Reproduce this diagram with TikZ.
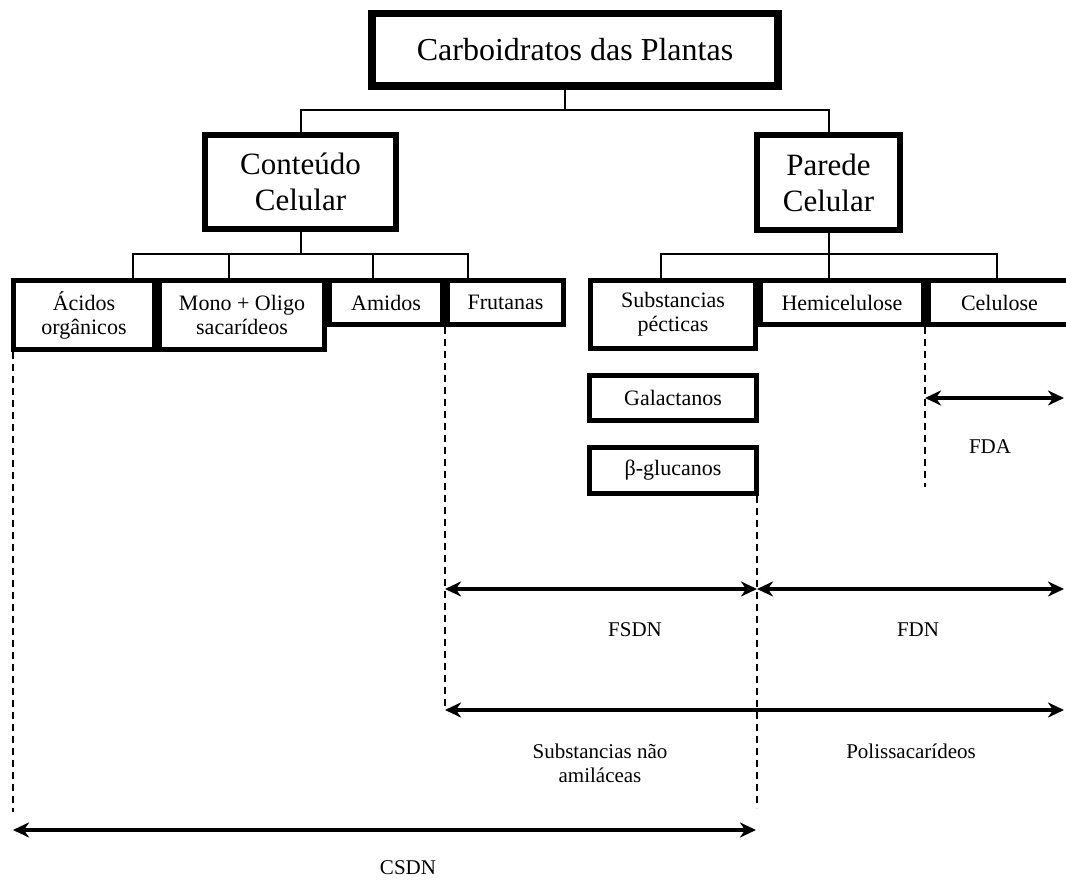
\documentclass[tikz,border=0pt]{standalone}
\usepackage{fontspec}
\setmainfont{Liberation Serif}
\usetikzlibrary{arrows.meta}
\begin{document}
\begin{tikzpicture}[x=1pt,y=-1pt,
  bigbox/.style={draw, line width=6pt, inner sep=0pt, align=center, font=\fontsize{31}{36}\selectfont},
  rowbox/.style={draw, line width=5pt, inner sep=0pt, align=center, font=\fontsize{22}{24}\selectfont},
  conn/.style={line width=2pt},
  dsh/.style={line width=2pt, dash pattern=on 7pt off 5pt},
  dim/.style={line width=4.5pt, {Stealth[length=16pt,width=15pt,inset=5pt]}-{Stealth[length=16pt,width=15pt,inset=5pt]}},
  lbl/.style={align=center, font=\fontsize{21}{24}\selectfont}]
\useasboundingbox (0,0) rectangle (1066,882);
\clip (0,0) rectangle (1066,882);

% main boxes
\node[bigbox, line width=7.5pt, minimum width=406pt, minimum height=72.5pt, font=\fontsize{32}{36}\selectfont] (top) at (575,50) {Carboidratos das Plantas};
\node[bigbox, minimum width=191pt, minimum height=94pt] (cc) at (300.5,182) {Conteúdo\\Celular};
\node[bigbox, minimum width=143pt, minimum height=95pt] (pc) at (828.5,182.5) {Parede\\Celular};

% row boxes
\node[rowbox, minimum width=141pt, minimum height=69pt] (ac) at (84,315) {Ácidos\\orgânicos};
\node[rowbox, minimum width=165pt, minimum height=69pt] (mo) at (242,315) {Mono + Oligo\\sacarídeos};
\node[rowbox, minimum width=113pt, minimum height=44pt] (am) at (386,302.5) {Amidos};
\node[rowbox, minimum width=116pt, minimum height=44pt] (fr) at (505.5,302.5) {Frutanas};
\node[rowbox, minimum width=165pt, minimum height=68pt] (sp) at (673,314.5) {Substancias\\pécticas};
\node[rowbox, minimum width=163pt, minimum height=44pt] (hc) at (842,302.5) {Hemicelulose};
\node[rowbox, minimum width=142pt, minimum height=44pt] (ce) at (999.5,302.5) {Celulose};
\node[rowbox, minimum width=167pt, minimum height=45pt] (ga) at (673,398) {Galactanos};
\node[rowbox, minimum width=167pt, minimum height=46pt] (bg) at (673,470.5) {β-glucanos};

% tree connectors
\coordinate (j0) at (565,110);
\draw[conn] (j0 |- top.south) -- (j0);
\draw[conn] (cc.north) -- (cc.north |- j0) -- (pc.north |- j0) -- (pc.north);

\coordinate (b1) at (133,254);
\coordinate (b2) at (229,254);
\coordinate (b3) at (373,254);
\coordinate (b4) at (468,254);
\draw[conn] (cc.south) -- (cc.south |- b1);
\draw[conn] (b1 |- ac.north) -- (b1) -- (b4) -- (b4 |- fr.north);
\draw[conn] (b2) -- (b2 |- mo.north);
\draw[conn] (b3) -- (b3 |- am.north);

\coordinate (r1) at (661,254);
\coordinate (r2) at (829,254);
\coordinate (r3) at (997,254);
\draw[conn] (pc.south) -- (pc.south |- r2);
\draw[conn] (r1 |- sp.north) -- (r1) -- (r3) -- (r3 |- ce.north);
\draw[conn] (r2) -- (r2 |- hc.north);

% dimension coordinates
\coordinate (fdaL) at (925,398);
\coordinate (fdaR) at (1064,398);
\coordinate (fsL) at (445,589);
\coordinate (fsM) at (757,589);
\coordinate (fsR) at (1064,589);
\coordinate (pL) at (445,710);
\coordinate (pR) at (1064,710);
\coordinate (csL) at (13,830);
\coordinate (csR) at (756,830);
\coordinate (dA) at (13,812);
\coordinate (dM) at (757,808);
\coordinate (dF) at (925,487);

% dashed guides
\draw[dsh] (dA |- ac.south) -- (dA);
\draw[dsh] (pL |- fr.south) -- (pL);
\draw[dsh] (dM |- bg.south) -- (dM);
\draw[dsh] (dF |- ce.south) -- (dF);

% dimension arrows
\draw[dim] (fdaL) -- (fdaR);
\draw[dim] (fsL) -- (fsM);
\draw[dim] (fsM) -- (fsR);
\draw[dim] (pL) -- (pR);
\draw[dim] (csL) -- (csR);

% labels
\node[lbl] (lfda) at (990,447) {FDA};
\node[lbl] (lfsdn) at (635,630) {FSDN};
\node[lbl] (lfdn) at (918,630) {FDN};
\node[lbl] (lsna) at (600,763) {Substancias não\\amiláceas};
\node[lbl] (lpol) at (911,751) {Polissacarídeos};
\node[lbl] (lcsdn) at (408,868) {CSDN};
\end{tikzpicture}
\end{document}
